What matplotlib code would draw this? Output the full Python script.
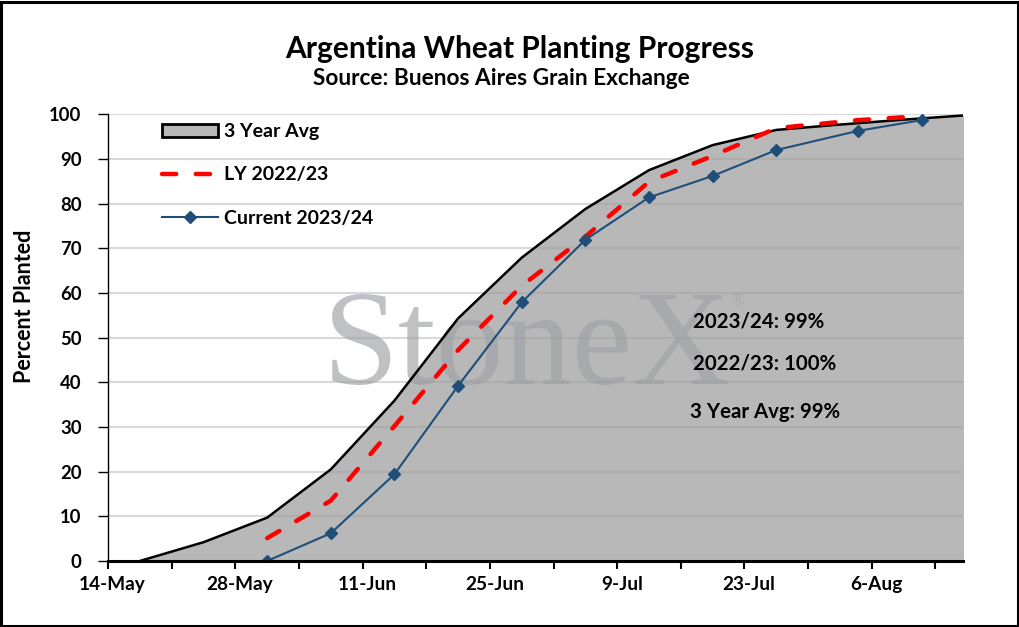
import matplotlib
matplotlib.use("Agg")
import matplotlib.pyplot as plt
from matplotlib.lines import Line2D
from matplotlib.patches import Patch, Rectangle
import pandas as pd

# dati (percentuale seminata)
avg_dates = ['2023-05-17', '2023-05-24', '2023-05-31', '2023-06-07', '2023-06-14',
             '2023-06-21', '2023-06-28', '2023-07-05', '2023-07-12', '2023-07-19',
             '2023-07-26', '2023-08-02', '2023-08-09', '2023-08-16']
avg_values = [0, 4.2, 9.7, 20.5, 35.9, 54.3, 67.9, 78.8, 87.5, 93.1, 96.5, 97.7, 98.8, 99.8]

week_dates = ['2023-05-31', '2023-06-07', '2023-06-14', '2023-06-21', '2023-06-28',
              '2023-07-05', '2023-07-12', '2023-07-19', '2023-07-26', '2023-08-04',
              '2023-08-11']
ly_values = [5.1, 13.5, 30.2, 47.2, 61.6, 72.6, 84.9, 90.7, 96.9, 98.7, 99.6]
cur_values = [0, 6.2, 19.4, 39.2, 57.9, 71.9, 81.4, 86.2, 92.0, 96.3, 98.7]

labels = ['3 Year Avg', 'LY 2022/23', 'Current 2023/24']
notes = ['2023/24: 99%', '2022/23: 100%', '3 Year Avg: 99%']

x_start = pd.Timestamp('2023-05-14')
x_end = pd.Timestamp('2023-08-16')
half_day = pd.Timedelta(hours=12)  # i punti stanno al centro del giorno

FONT = 'Lato'
fill_col = '#b8b8b8'
blue = '#1f4e79'
red = '#ff0000'

fig = plt.figure(figsize=(10.2, 6.27), dpi=100)
ax = fig.add_axes([0.1059, 0.1053, 0.8379, 0.7124])

avg_x = pd.to_datetime(avg_dates) + half_day
wk_x = pd.to_datetime(week_dates) + half_day

ax.fill_between(avg_x, avg_values, 0, color=fill_col, lw=0, zorder=1)
ax.plot(avg_x, avg_values, color='black', lw=1.8, zorder=4)

# griglia orizzontale (semi trasparente, sopra l'area grigia)
for v in range(10, 101, 10):
    ax.axhline(v, color='#9d9d9d', alpha=0.39, lw=1.5, zorder=2)

ax.plot(wk_x, ly_values, color=red, lw=3.2, dashes=(3.2, 4.4), dash_capstyle='round', zorder=5)
ax.plot(wk_x, cur_values, color=blue, lw=1.5, marker='D', ms=6.5, zorder=6)

# watermark
ax.text(0.251, 0.396, 'StoneX', transform=ax.transAxes, family='Liberation Serif',
        fontsize=98, color='#a0a3a8', alpha=0.67, ha='left', va='baseline', zorder=1.5)
ax.text(0.728, 0.572, '®', transform=ax.transAxes, family='Liberation Serif',
        fontsize=13, color='#a0a3a8', alpha=0.67, ha='left', va='baseline', zorder=1.5)

# note finali
note_y = [0.5216, 0.4276, 0.3201]
note_x = [0.6845, 0.6845, 0.681]
for t, xx, yy in zip(notes, note_x, note_y):
    ax.text(xx, yy, t, transform=ax.transAxes, family=FONT, fontweight='bold',
            fontsize=14.7, color='black', ha='left', va='baseline', zorder=7)

ax.set_xlim(x_start, x_end)
ax.set_ylim(0, 100)

# tacche ogni 7 giorni, etichette ogni 14 al centro del giorno
ax.set_xticks(pd.date_range(x_start, '2023-08-13', freq='7D'))
ax.set_xticklabels([])
lab_dates = pd.date_range(x_start, '2023-08-06', freq='14D')
ax.set_xticks(lab_dates + half_day, minor=True)
ax.set_xticklabels([f"{d.day}-{d.strftime('%b')}" for d in lab_dates], minor=True)
ax.tick_params(axis='x', which='major', direction='out', length=6, width=1.5, color='black')
ax.tick_params(axis='x', which='minor', length=0, pad=11)

ax.set_yticks(range(0, 101, 10))
ax.tick_params(axis='y', direction='out', length=7, width=1, color='black', pad=12)

for lab in ax.get_xticklabels(minor=True):
    lab.set_fontfamily(FONT)
    lab.set_fontweight('bold')
    lab.set_fontsize(13.7)
for lab in ax.get_yticklabels():
    lab.set_fontfamily(FONT)
    lab.set_fontweight('bold')
    lab.set_fontsize(13.3)

ax.spines['top'].set_visible(False)
ax.spines['right'].set_visible(False)
ax.spines['bottom'].set_linewidth(2.2)
ax.spines['left'].set_linewidth(1)
ax.spines['bottom'].set_zorder(8)

ax.set_ylabel('Percent Planted', family=FONT, fontweight='bold', fontsize=15.5)
ax.yaxis.set_label_coords(-0.085, 0.571)

handles = [Patch(facecolor=fill_col, edgecolor='black', lw=2),
           Line2D([], [], color=red, lw=3.2, dashes=(3.2, 4.4), dash_capstyle='round'),
           Line2D([], [], color=blue, lw=1.5, marker='D', ms=6.5)]
ax.legend(handles, labels, loc='upper left', bbox_to_anchor=(0.063, 0.98), frameon=False,
          handlelength=2.9, handletextpad=0.32, labelspacing=1.35, borderpad=0,
          borderaxespad=0, prop={'family': FONT, 'weight': 'bold', 'size': 14})

fig.text(0.509, 0.907, 'Argentina Wheat Planting Progress', family=FONT, fontweight='bold',
         fontsize=21.5, ha='center', va='baseline')
fig.text(0.492, 0.864, 'Source: Buenos Aires Grain Exchange', family=FONT, fontweight='bold',
         fontsize=16.3, ha='center', va='baseline')

# bordo esterno
fig.patches.append(Rectangle((0.001, 0.002), 0.997, 0.995, transform=fig.transFigure,
                             fill=False, edgecolor='black', lw=2.2))

fig.savefig('out.png', dpi=100)
